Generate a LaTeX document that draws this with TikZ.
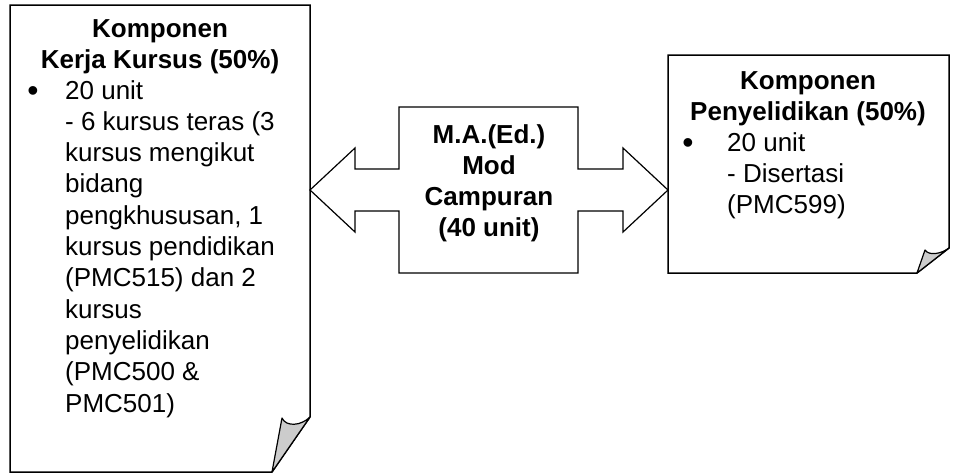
\documentclass[tikz,border=0pt]{standalone}
\usepackage{fontspec}
\setmainfont{Liberation Sans}
\usetikzlibrary{positioning}
\tikzset{
  page/.style={draw=black, line width=1.5pt, fill=white, line join=miter},
  curl/.style={draw=black, line width=1.2pt, fill=black!20, line join=round},
  callout/.style={draw=black, line width=1.2pt, fill=white, line join=miter},
  txt/.style={inner sep=0pt, font=\fontsize{26}{31.3}\selectfont},
  head/.style={txt, anchor=base, font=\fontsize{26}{31.3}\selectfont\bfseries},
  dot/.style={inner sep=0pt, anchor=base, font=\fontsize{32}{32}\selectfont},
}

\begin{document}
\begin{tikzpicture}[x=1pt, y={(0pt,-1pt)}]
\useasboundingbox (0,0) rectangle (953,475);
% Coursework page
\draw[page] (10,5) -- (310,5) -- (310,417) -- (272,472) -- (10,472) -- cycle;
\draw[curl] (282,418) .. controls (286,427) and (301,426) .. (310,417) -- (272,472) -- cycle;
% Research page
\draw[page] (668,55) -- (949,55) -- (949,248) -- (917,273) -- (668,273) -- cycle;
\draw[curl] (925,250) .. controls (929,256) and (941,254) .. (949,248) -- (917,273) -- cycle;
% Double arrow callout
\draw[callout] (310,190) -- (355,148) -- (355,169) -- (399,169) -- (399,107)
  -- (578,107) -- (578,169) -- (623,169) -- (623,148) -- (668,190)
  -- (623,232) -- (623,211) -- (578,211) -- (578,273) -- (399,273)
  -- (399,211) -- (355,211) -- (355,232) -- cycle;
% Labels
\node[head] (kerjaTitle) at (160,37)
  {\begin{tabular}[t]{@{}c@{}}Komponen\\ Kerja Kursus (50\%)\end{tabular}};
\node[dot] (kerjaDot) at (33,101) {\textbullet};
\node[txt, anchor=base west] (kerjaBody) at (65,99)
  {\begin{tabular}[t]{@{}l@{}}20 unit\\ - 6 kursus teras (3\\ kursus mengikut\\ bidang\\
   pengkhususan, 1\\ kursus pendidikan\\ (PMC515) dan 2\\ kursus\\ penyelidikan\\
   (PMC500 \&\\ PMC501)\end{tabular}};
\node[head] (modTitle) at (489,143)
  {\begin{tabular}[t]{@{}c@{}}M.A.(Ed.)\\ Mod\\ Campuran\\ (40 unit)\end{tabular}};
\node[head] (kajiTitle) at (808,89)
  {\begin{tabular}[t]{@{}c@{}}Komponen\\ Penyelidikan (50\%)\end{tabular}};
\node[dot] (kajiDot) at (688,153) {\textbullet};
\node[txt, anchor=base west] (kajiBody) at (727,151)
  {\begin{tabular}[t]{@{}l@{}}20 unit\\ - Disertasi\\ (PMC599)\end{tabular}};
\end{tikzpicture}
\end{document}
